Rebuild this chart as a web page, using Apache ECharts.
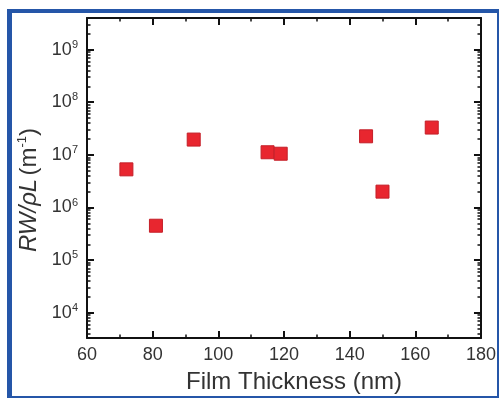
<!DOCTYPE html>
<html>
<head>
<meta charset="utf-8">
<title>RW/pL vs film thickness</title>
<script src="https://cdn.jsdelivr.net/npm/echarts@6/dist/echarts.min.js"></script>
<style>
  html, body { margin: 0; padding: 0; background: #fff; }
  #chart { width: 499px; height: 399px; }
</style>
</head>
<body>
<div id="chart"></div>
<script>
  // values
  var thickness = [72, 81, 92.5, 115, 119, 145, 150, 165];
  var rwpl = [5.3e6, 4.5e5, 1.95e7, 1.12e7, 1.05e7, 2.25e7, 2.0e6, 3.3e7];
  var xTicks = [60, 80, 100, 120, 140, 160, 180];
  var yDecades = [4, 5, 6, 7, 8, 9];

  (function () {
    'use strict';

    var yMin = Math.pow(10, 3.52);
    var yMax = Math.pow(10, 9.6);

    var majorY = yDecades.map(function (e) { return Math.pow(10, e); });
    var minorY = [];
    for (var e = 3; e <= 9; e++) {
      for (var k = 2; k <= 9; k++) {
        var v = k * Math.pow(10, e);
        if (v > yMin && v < yMax) minorY.push(v);
      }
    }

    var font = '"Liberation Sans", Arial, sans-serif';
    var ink = '#111';
    var txt = '#333';

    function yAxisBase(pos, withLine, ticks, len, w) {
      return {
        type: 'log',
        logBase: 10,
        position: pos,
        min: yMin,
        max: yMax,
        splitLine: { show: false },
        axisLine: { show: withLine, lineStyle: { color: ink, width: 2 } },
        axisTick: { show: true, inside: true, length: len, customValues: ticks, lineStyle: { color: ink, width: w } },
        axisLabel: { show: false }
      };
    }

    var left = yAxisBase('left', true, majorY, 7, 2);
    left.axisLabel = {
      show: true,
      customValues: majorY,
      margin: 9,
      fontFamily: font,
      fontSize: 18,
      color: txt,
      formatter: function (val) {
        return '{b|10}{s|' + Math.round(Math.log10(val)) + '}';
      },
      rich: {
        b: { fontFamily: font, fontSize: 18, color: txt },
        s: { fontFamily: font, fontSize: 11, color: txt, verticalAlign: 'top', padding: [0, 0, 10, 0] }
      }
    };
    left.name = '{i|RW/\u03c1L} {n|(m}{s|-1}{n|)}';
    left.nameLocation = 'middle';
    left.nameGap = 44;
    left.nameTextStyle = {
      padding: [0, 24, 0, 0],
      rich: {
        i: { fontFamily: font, fontSize: 24, fontStyle: 'italic', color: txt },
        n: { fontFamily: font, fontSize: 24, color: txt },
        s: { fontFamily: font, fontSize: 13, color: txt, padding: [0, 0, 13, 0] }
      }
    };

    var leftMinor = yAxisBase('left', false, minorY, 3.5, 1.5);
    var right = yAxisBase('right', true, majorY, 7, 2);
    var rightMinor = yAxisBase('right', false, minorY, 3.5, 1.5);

    function xAxisBase(pos, withLabels) {
      return {
        type: 'value',
        position: pos,
        min: 60,
        max: 180,
        interval: 20,
        splitLine: { show: false },
        axisLine: { show: true, lineStyle: { color: ink, width: 2 } },
        axisTick: { show: true, inside: true, length: 7, lineStyle: { color: ink, width: 2 } },
        minorTick: { show: true, splitNumber: 2, length: 3.5, lineStyle: { color: ink, width: 1.5 } },
        minorSplitLine: { show: false },
        axisLabel: {
          show: withLabels,
          margin: 8,
          fontFamily: font,
          fontSize: 18,
          color: txt,
          customValues: xTicks
        }
      };
    }

    var bottom = xAxisBase('bottom', true);
    bottom.name = 'Film Thickness (nm)';
    bottom.nameLocation = 'middle';
    bottom.nameGap = 32;
    bottom.nameTextStyle = { fontFamily: font, fontSize: 24, color: txt, padding: [0, 0, 0, 20] };
    var top = xAxisBase('top', false);

    var frame = '#2556a8';

    var chart = echarts.init(document.getElementById('chart'), null, { renderer: 'canvas' });
    chart.setOption({
      animation: false,
      backgroundColor: '#fff',
      grid: { left: 87, right: 17, top: 18, bottom: 61 },
      xAxis: [bottom, top],
      yAxis: [left, leftMinor, right, rightMinor],
      graphic: [
        { type: 'rect', shape: { x: 7, y: 9, width: 5, height: 389 }, style: { fill: frame } },
        { type: 'rect', shape: { x: 7, y: 9, width: 492, height: 4 }, style: { fill: frame } },
        { type: 'rect', shape: { x: 497, y: 9, width: 2, height: 389 }, style: { fill: frame } },
        { type: 'rect', shape: { x: 7, y: 396, width: 492, height: 2 }, style: { fill: frame } }
      ],
      series: [{
        type: 'scatter',
        xAxisIndex: 0,
        yAxisIndex: 0,
        symbol: 'rect',
        symbolSize: 13,
        itemStyle: { color: '#e8262f', borderColor: '#c41f28', borderWidth: 1, opacity: 1 },
        data: thickness.map(function (t, i) { return [t, rwpl[i]]; })
      }]
    });
  })();
</script>
</body>
</html>
